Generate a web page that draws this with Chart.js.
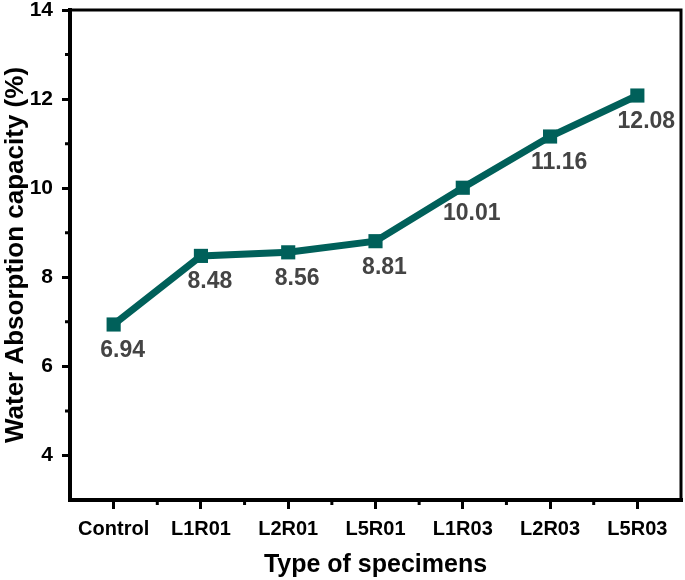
<!DOCTYPE html>
<html lang="en">
<head>
<meta charset="utf-8">
<title>Water Absorption capacity</title>
<script src="https://cdn.jsdelivr.net/npm/chart.js"></script>
<style>
  html, body { margin: 0; padding: 0; background: #fff; }
  #wrap { width: 685px; height: 580px; }
</style>
</head>
<body>
<div id="wrap"><canvas id="myChart" width="685" height="580"></canvas></div>
<script>
// data
var specimens = ['Control', 'L1R01', 'L2R01', 'L5R01', 'L1R03', 'L2R03', 'L5R03'];
var absorption = [6.94, 8.48, 8.56, 8.81, 10.01, 11.16, 12.08];
var yTicks = [4, 6, 8, 10, 12, 14];
var yMinorTicks = [5, 7, 9, 11, 13];

var lineColor = '#00605a';

// minor ticks, top/right frame and value labels
var extras = {
  id: 'extras',
  afterDatasetsDraw: function(chart) {
    var ctx = chart.ctx;
    var meta = chart.getDatasetMeta(0);
    ctx.save();
    ctx.fillStyle = '#444';
    ctx.font = 'bold 23px "Liberation Sans", Arial, sans-serif';
    ctx.textAlign = 'center';
    ctx.textBaseline = 'middle';
    meta.data.forEach(function(pt, i) {
      ctx.fillText(absorption[i].toFixed(2), pt.x + 9, pt.y + 26);
    });
    ctx.restore();
  },
  afterDraw: function(chart) {
    var ctx = chart.ctx;
    var a = chart.chartArea;
    var xs = chart.scales.x, ys = chart.scales.y;
    ctx.save();
    ctx.strokeStyle = '#000';
    ctx.lineWidth = 3;
    ctx.beginPath();
    ctx.moveTo(a.left, a.top);
    ctx.lineTo(a.right, a.top);
    ctx.lineTo(a.right, a.bottom);
    ctx.stroke();
    // minor ticks
    ctx.beginPath();
    for (var i = 0; i < specimens.length - 1; i++) {
      var mx = (xs.getPixelForValue(i) + xs.getPixelForValue(i + 1)) / 2;
      ctx.moveTo(mx, a.bottom);
      ctx.lineTo(mx, a.bottom + 5);
    }
    yMinorTicks.forEach(function(v) {
      var my = ys.getPixelForValue(v);
      ctx.moveTo(a.left, my);
      ctx.lineTo(a.left - 5, my);
    });
    ctx.stroke();
    ctx.restore();
  }
};

let ctx = document.getElementById('myChart').getContext('2d');
let myChart = new Chart(ctx, {
  type: 'line',
  data: {
    labels: specimens,
    datasets: [{
      label: 'Water Absorption capacity',
      data: absorption,
      borderColor: lineColor,
      backgroundColor: lineColor,
      borderWidth: 7,
      pointStyle: 'rect',
      pointRadius: 10,
      pointHoverRadius: 10,
      pointBorderWidth: 0,
      tension: 0,
      fill: false
    }]
  },
  plugins: [extras],
  options: {
    responsive: false,
    animation: false,
    layout: { autoPadding: false, padding: { top: 10, right: 4, left: 0, bottom: 0 } },
    plugins: { legend: { display: false }, tooltip: { enabled: false } },
    scales: {
      x: {
        offset: true,
        afterFit: function(s) { s.height = 80; s.paddingLeft = 0; s.paddingRight = 0; },
        grid: { drawOnChartArea: false, drawTicks: true, tickLength: 9, lineWidth: 3, color: '#000', offset: false },
        border: { display: true, width: 4, color: '#000' },
        ticks: {
          color: '#000', padding: 8, maxRotation: 0,
          font: { family: '"Liberation Sans", Arial, sans-serif', size: 20, weight: 'bold' }
        },
        title: {
          display: true, text: 'Type of specimens', color: '#000',
          padding: { top: 0, bottom: 0 },
          font: { family: '"Liberation Sans", Arial, sans-serif', size: 25, weight: 'bold' }
        }
      },
      y: {
        min: 3,
        max: 14,
        afterFit: function(s) { s.width = 70; s.paddingTop = 0; s.paddingBottom = 0; },
        afterBuildTicks: function(s) { s.ticks = yTicks.map(function(v) { return { value: v }; }); },
        grid: { drawOnChartArea: false, drawTicks: true, tickLength: 8, lineWidth: 3, color: '#000' },
        border: { display: true, width: 4, color: '#000' },
        ticks: {
          color: '#000', padding: 9,
          font: { family: '"Liberation Sans", Arial, sans-serif', size: 21, weight: 'bold' }
        },
        title: {
          display: true, text: 'Water Absorption capacity (%)', color: '#000',
          padding: { top: 0, bottom: 0 },
          font: { family: '"Liberation Sans", Arial, sans-serif', size: 26, weight: 'bold' }
        }
      }
    }
  }
});
</script>
</body>
</html>
